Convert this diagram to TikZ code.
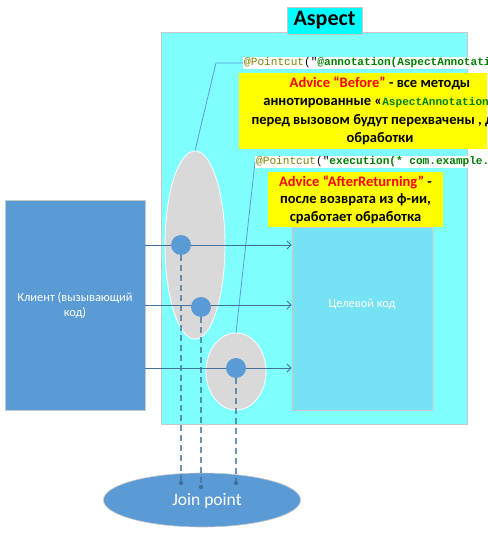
\documentclass[tikz,border=0pt]{standalone}
\usepackage{fontspec}
\setmainfont{Carlito}
\setmonofont{Liberation Mono}
\usetikzlibrary{shapes.geometric,arrows.meta}
\definecolor{aspectbg}{HTML}{80FFFF}
\definecolor{titlebg}{HTML}{00FFFF}
\definecolor{clientbl}{HTML}{5B9BD5}
\definecolor{targetbl}{HTML}{75E3F3}
\definecolor{ellgray}{HTML}{D9D9D9}
\definecolor{flowbl}{HTML}{41719C}
\definecolor{boxedge}{HTML}{C8C8C8}
\definecolor{codeolive}{HTML}{808000}
\definecolor{codegreen}{HTML}{008000}
\definecolor{advred}{HTML}{FF0000}
\definecolor{yel}{HTML}{FFFF00}
\tikzset{
  plainbox/.style={draw=boxedge, line width=0.8pt, inner sep=0pt},
  grayell/.style={ellipse, draw=white, line width=0.8pt, fill=ellgray, inner sep=0pt},
  jdot/.style={circle, fill=clientbl, draw=none, minimum size=20pt, inner sep=0pt},
  enddot/.style={circle, fill=flowbl, minimum size=4.5pt, inner sep=0pt},
  flow/.style={draw=flowbl, line width=0.9pt, -{Straight Barb[length=4pt,width=8pt]}},
  dashl/.style={draw=flowbl, draw opacity=0.75, line width=1.4pt, dash pattern=on 6pt off 4pt},
  pcline/.style={draw=clientbl, line width=0.8pt},
  codelbl/.style={fill=white, inner sep=1pt, anchor=west, font=\ttfamily\fontsize{11.1}{12}\selectfont},
  yelbox/.style={fill=yel, inner sep=0pt, align=center, font=\bfseries\fontsize{14.5}{18.5}\selectfont},
  whitetxt/.style={text=white, align=center, font=\fontsize{12.4}{15}\selectfont},
}
\newcommand{\pcode}[1]{{\color{codeolive}@Pointcut}("{\color{codegreen}\bfseries #1}}
\begin{document}
\begin{tikzpicture}[x=1pt,y=-1pt]
\useasboundingbox (0,0) rectangle (487,534);
\clip (0,0) rectangle (487,534);
\fill[white] (0,0) rectangle (487,534);
% aspect area
\node[plainbox, fill=aspectbg, minimum width=306, minimum height=392] (aspect) at (314,228) {};
\node[plainbox, fill=titlebg, minimum width=75, minimum height=27, font=\bfseries\fontsize{22}{24}\selectfont] (title) at (324.5,20.5) {Aspect};
% boxes
\node[plainbox, fill=clientbl, minimum width=140, minimum height=210] (client) at (75,305) {};
\node[whitetxt] (clienttxt) at (75,305) {Клиент (вызывающий\\код)};
\node[plainbox, fill=targetbl, minimum width=140, minimum height=183] (target) at (362,318.5) {};
\node[whitetxt] (targettxt) at (362,304) {Целевой код};
% pointcut labels and advice boxes
\node[codelbl] (pc1) at (243,63) {\pcode{@annotation(AspectAnnotation)}};
\node[yelbox, minimum width=282, minimum height=76] (adv1) at (380,111) {%
  {\color{advred}Advice “Before”} - все методы\\
  аннотированные «{\ttfamily\color{codegreen}\fontsize{11.1}{12}\selectfont AspectAnnotation}»\\
  перед вызовом будут перехвачены , для\\
  обработки};
\node[codelbl] (pc2) at (255,162) {\pcode{execution(* com.example.*)}};
\node[yelbox, minimum width=175, minimum height=55, font=\bfseries\fontsize{14.5}{17.5}\selectfont] (adv2) at (355.5,199.5) {%
  {\color{advred}Advice “AfterReturning”} -\\
  после возврата из ф-ии,\\
  сработает обработка};
% gray ellipses
\node[grayell, minimum width=60, minimum height=188] (e1) at (195,245) {};
\node[grayell, minimum width=60, minimum height=77] (e2) at (236,371.5) {};
% pointcut connectors
\coordinate (bend1) at (216,63);
\draw[pcline] (pc1.west) -- (bend1) -- (e1.north);
\draw[pcline] (pc2.west) -- (e2.north);
% flows
\coordinate (f1) at (0,245);
\coordinate (f2) at (0,305);
\coordinate (f3) at (0,368);
\draw[flow] (client.east |- f1) -- (target.west |- f1);
\draw[flow] (client.east |- f2) -- (target.west |- f2);
\draw[flow] (client.east |- f3) -- (target.west |- f3);
% join point ellipse
\node[ellipse, fill=clientbl, draw=boxedge, line width=0.6pt, minimum width=197, minimum height=54, inner sep=0pt] (jp) at (202,500) {};
\node[text=white, font=\fontsize{17.5}{19}\selectfont] (jptxt) at (207,501) {Join point};
% dots
\node[jdot] (d1) at (181,245) {};
\node[jdot] (d2) at (201,307) {};
\node[jdot] (d3) at (236,368) {};
\node[enddot] (t1) at (181,483) {};
\node[enddot] (t2) at (201,487) {};
\node[enddot] (t3) at (236,483) {};
\draw[dashl] (d1.south) -- (t1);
\draw[dashl] (d2.south) -- (t2);
\draw[dashl] (d3.south) -- (t3);
\end{tikzpicture}
\end{document}
